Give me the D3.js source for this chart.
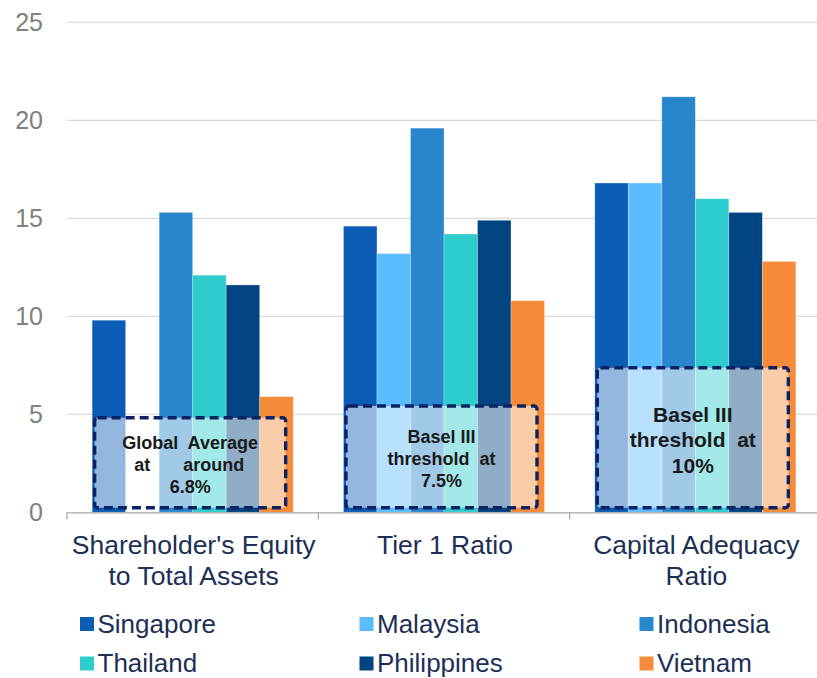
<!DOCTYPE html>
<html>
<head>
<meta charset="utf-8">
<script src="https://cdn.jsdelivr.net/npm/d3@7"></script>
<style>
  html, body { margin: 0; padding: 0; background: #fff; }
  svg { display: block; font-family: "Liberation Sans", Arial, sans-serif; }
</style>
</head>
<body>
<svg id="chart" width="817" height="678"></svg>
<script>
// ---- data ----
const categories = ["Shareholder's Equity to Total Assets", "Tier 1 Ratio", "Capital Adequacy Ratio"];
const categoryLines = [["Shareholder's Equity", "to Total Assets"], ["Tier 1 Ratio"], ["Capital Adequacy", "Ratio"]];
const seriesNames = ["Singapore", "Malaysia", "Indonesia", "Thailand", "Philippines", "Vietnam"];
const singapore   = [9.8, 14.6, 16.8];
const malaysia    = [null, 13.2, 16.8];
const indonesia   = [15.3, 19.6, 21.2];
const thailand    = [12.1, 14.2, 16.0];
const philippines = [11.6, 14.9, 15.3];
const vietnam     = [5.9, 10.8, 12.8];
const yTicks = [0, 5, 10, 15, 20, 25];
const boxTops = [4.9, 5.5, 7.45];
const boxLabels = [
  [["Global  Average"], ["at", "around"], ["6.8%"]],
  [["Basel III"], ["threshold  at"], ["7.5%"]],
  [["Basel III"], ["threshold  at"], ["10%"]]
];

const seriesValues = [singapore, malaysia, indonesia, thailand, philippines, vietnam];
const colors = ["#0b5cb5", "#5bbcff", "#2a86cc", "#2ecdcd", "#004481", "#f68b3a"];

// ---- layout ----
const svg = d3.select("#chart");
const mLeft = 67, mRight = 821, mTop = 22.3, mBottom = 512.3;

const x0 = d3.scaleBand().domain(categories).range([mLeft, mRight]).padding(0);
const bw = x0.bandwidth();
const x1 = d3.scaleBand().domain(seriesNames).range([bw * 0.1, bw * 0.9]).padding(0);
const y = d3.scaleLinear().domain([0, 25]).range([mBottom, mTop]);
const color = d3.scaleOrdinal().domain(seriesNames).range(colors);

// gridlines
svg.append("g").selectAll("line").data(yTicks.filter(d => d > 0)).join("line")
  .attr("x1", mLeft).attr("x2", 817)
  .attr("y1", d => y(d)).attr("y2", d => y(d))
  .attr("stroke", "#d9d9d9").attr("stroke-width", 1.2);

// y axis labels
const yAxis = d3.axisLeft(y).tickValues(yTicks).tickSize(0).tickPadding(24).tickFormat(d3.format("d"));
const gy = svg.append("g").attr("transform", `translate(${mLeft},0)`).call(yAxis);
gy.select(".domain").remove();
gy.selectAll("text").attr("font-size", 25).attr("fill", "#808080")
  .attr("font-family", "Liberation Sans, Arial, sans-serif");

// bars
const flat = [];
categories.forEach((c, ci) => {
  seriesNames.forEach((s, si) => {
    const v = seriesValues[si][ci];
    if (v != null) flat.push({ c, s, v });
  });
});
svg.append("g").selectAll("rect").data(flat).join("rect")
  .attr("x", d => x0(d.c) + x1(d.s))
  .attr("y", d => y(d.v))
  .attr("width", x1.bandwidth())
  .attr("height", d => y(0) - y(d.v))
  .attr("fill", d => color(d.s))
  .attr("stroke", "rgba(255,255,255,0.35)")
  .attr("stroke-width", 0.8);

// x axis line + ticks
const xAxis = d3.axisBottom(x0).tickSize(0).tickFormat("");
const gx = svg.append("g").attr("transform", `translate(0,${mBottom})`).call(xAxis);
gx.select(".domain").attr("stroke", "#a6a6a6").attr("stroke-width", 1.3);
gx.selectAll(".tick").remove();
const boundaries = categories.map(c => x0(c)).concat([mRight]);
gx.selectAll("line.bnd").data(boundaries).join("line").attr("class", "bnd")
  .attr("x1", d => d).attr("x2", d => d).attr("y1", 0).attr("y2", 7)
  .attr("stroke", "#a6a6a6").attr("stroke-width", 1.3);

// threshold boxes
const fontSizes = [18, 18, 21];
categories.forEach((c, ci) => {
  const bx = x0(c) + x1.range()[0] + 1;
  const bwBox = (x1.range()[1] - x1.range()[0]) * 0.965;
  const by = y(boxTops[ci]);
  const bh = (y(0) - 3) - by;
  const g = svg.append("g");
  g.append("rect")
    .attr("x", bx + 1.5).attr("y", by + 1.5)
    .attr("width", bwBox - 3).attr("height", bh - 3)
    .attr("rx", 3).attr("ry", 3)
    .attr("fill", "rgba(255,255,255,0.56)")
    .attr("stroke", "#0c2262").attr("stroke-width", 3.4)
    .attr("stroke-dasharray", "9,5");
  const fs = fontSizes[ci];
  const lh = fs * 1.22;
  const cx = bx + bwBox / 2;
  const cy = by + bh / 2 + fs * 0.45;
  boxLabels[ci].forEach((parts, li) => {
    const ly = cy + (li - 1) * lh;
    if (parts.length === 1) {
      g.append("text").attr("x", cx).attr("y", ly)
        .attr("text-anchor", "middle").attr("font-size", fs).attr("font-weight", "bold")
        .attr("fill", "#1a1a1a").style("white-space", "pre")
        .text(parts[0]);
    } else {
      g.append("text").attr("x", cx - 56).attr("y", ly)
        .attr("text-anchor", "start").attr("font-size", fs).attr("font-weight", "bold")
        .attr("fill", "#1a1a1a").text(parts[0]);
      g.append("text").attr("x", cx + 54).attr("y", ly)
        .attr("text-anchor", "end").attr("font-size", fs).attr("font-weight", "bold")
        .attr("fill", "#1a1a1a").text(parts[1]);
    }
  });
});

// category labels
const labelColor = "#1c2f55";
categories.forEach((c, ci) => {
  const t = svg.append("text")
    .attr("x", x0(c) + bw / 2 + 1).attr("y", 553.5)
    .attr("text-anchor", "middle").attr("font-size", 26.5).attr("fill", labelColor);
  categoryLines[ci].forEach((line, li) => {
    t.append("tspan").attr("x", x0(c) + bw / 2 + 1).attr("dy", li === 0 ? 0 : 31).text(line);
  });
});

// legend
const legendCols = [80, 359.5, 639.5];
const legendRows = [632.5, 672];
const lg = svg.append("g").selectAll("g").data(seriesNames).join("g")
  .attr("transform", (d, i) => `translate(${legendCols[i % 3]},${legendRows[Math.floor(i / 3)]})`);
lg.append("rect").attr("x", 0).attr("y", -15.5).attr("width", 14).attr("height", 14)
  .attr("fill", d => color(d));
lg.append("text").attr("x", 17.5).attr("y", 0).attr("font-size", 26).attr("fill", labelColor)
  .text(d => d);
</script>
</body>
</html>
